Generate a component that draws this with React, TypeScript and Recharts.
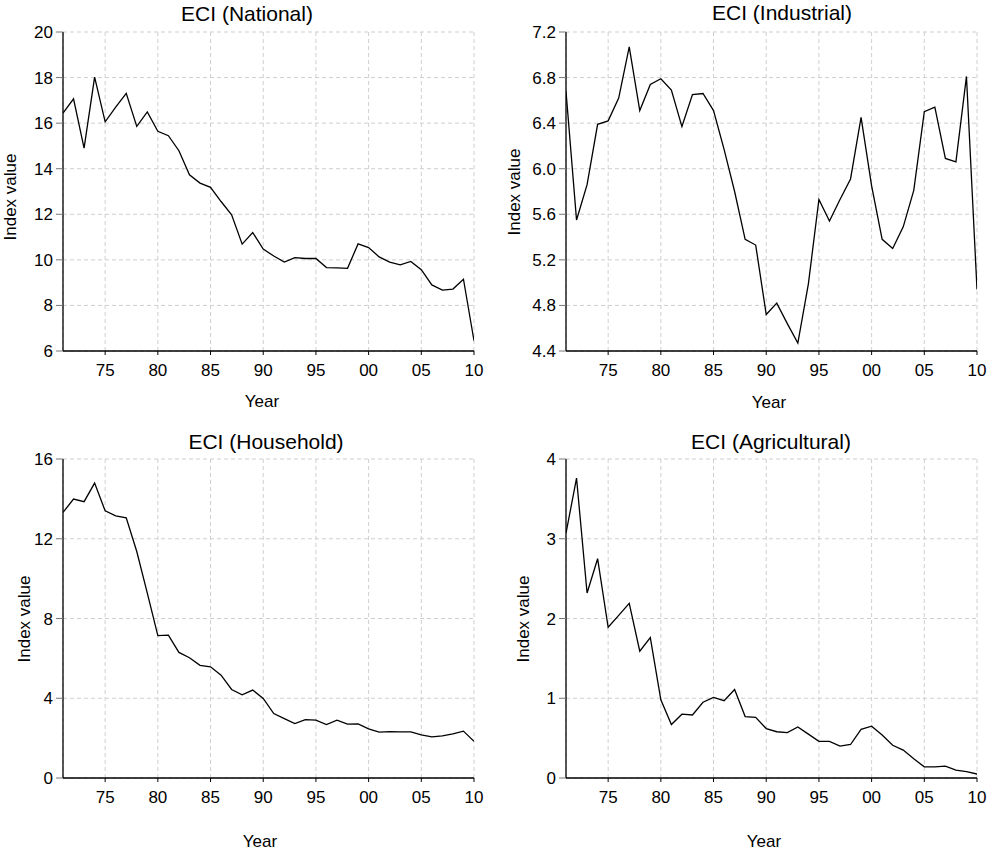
import React from 'react'
import { LineChart, Line, XAxis, YAxis, CartesianGrid } from 'recharts'

const years = [
  1971, 1972, 1973, 1974, 1975, 1976, 1977, 1978, 1979, 1980,
  1981, 1982, 1983, 1984, 1985, 1986, 1987, 1988, 1989, 1990,
  1991, 1992, 1993, 1994, 1995, 1996, 1997, 1998, 1999, 2000,
  2001, 2002, 2003, 2004, 2005, 2006, 2007, 2008, 2009, 2010,
]
const yearTicks = [1975, 1980, 1985, 1990, 1995, 2000, 2005, 2010]

const national = [
  16.44, 17.07, 14.9, 18.02, 16.06, 16.7, 17.31, 15.86, 16.49, 15.64,
  15.45, 14.79, 13.73, 13.37, 13.18, 12.56, 11.98, 10.69, 11.2, 10.47,
  10.17, 9.9, 10.1, 10.06, 10.06, 9.66, 9.65, 9.63, 10.7, 10.54,
  10.13, 9.9, 9.78, 9.93, 9.57, 8.9, 8.67, 8.72, 9.15, 6.45,
]
const industrial = [
  6.68, 5.55, 5.86, 6.39, 6.42, 6.62, 7.07, 6.51, 6.74, 6.79,
  6.69, 6.37, 6.65, 6.66, 6.51, 6.17, 5.8, 5.38, 5.33, 4.72,
  4.82, 4.64, 4.47, 4.99, 5.73, 5.54, 5.73, 5.91, 6.45, 5.85,
  5.38, 5.3, 5.49, 5.81, 6.5, 6.54, 6.09, 6.06, 6.81, 4.94,
]
const household = [
  13.32, 13.99, 13.86, 14.79, 13.4, 13.15, 13.05, 11.36, 9.27, 7.14,
  7.17, 6.3, 6.03, 5.65, 5.58, 5.16, 4.44, 4.17, 4.41, 3.99,
  3.23, 2.98, 2.73, 2.93, 2.9, 2.68, 2.9, 2.7, 2.71, 2.46,
  2.3, 2.33, 2.31, 2.31, 2.16, 2.06, 2.11, 2.21, 2.35, 1.84,
]
const agricultural = [
  3.07, 3.76, 2.32, 2.75, 1.89, 2.04, 2.19, 1.59, 1.76, 0.98,
  0.67, 0.8, 0.79, 0.95, 1.01, 0.97, 1.11, 0.77, 0.76, 0.62,
  0.58, 0.57, 0.64, 0.55, 0.46, 0.46, 0.4, 0.42, 0.61, 0.65,
  0.54, 0.41, 0.35, 0.24, 0.14, 0.14, 0.15, 0.1, 0.08, 0.05,
]

const font = '"Liberation Sans", Arial, sans-serif'

type PanelProps = {
  title: string
  values: number[]
  yTicks: number[]
  decimals: number
  left: number
  top: number
  width: number
  height: number
  yAxisWidth: number
  marginTop: number
  marginRight: number
  marginBottom: number
  titleX: number
  titleY: number
  yLabelX: number
  yLabelY: number
  xLabelX: number
  xLabelY: number
}

function Txt({ x, y, size, rotate, children }: { x: number; y: number; size: number; rotate?: boolean; children: React.ReactNode }) {
  return (
    <div style={{
      position: 'absolute', left: x, top: y, fontSize: size, fontFamily: font, color: '#000',
      whiteSpace: 'nowrap', lineHeight: 1,
      transform: `translate(-50%, -50%)${rotate ? ' rotate(-90deg)' : ''}`,
    }}>{children}</div>
  )
}

function Panel(p: PanelProps) {
  const data = years.map((y, i) => ({ year: y, v: p.values[i] }))
  const yDomain = [p.yTicks[0], p.yTicks[p.yTicks.length - 1]]
  const tickStyle = { fontSize: 17, fill: '#000', fontFamily: font }
  return (
    <>
      <div style={{ position: 'absolute', left: p.left, top: p.top }}>
        <LineChart width={p.width} height={p.height} data={data}
          margin={{ top: p.marginTop, right: p.marginRight, bottom: p.marginBottom, left: 0 }}>
          <CartesianGrid stroke="#cfcfcf" strokeDasharray="4 3" />
          <XAxis dataKey="year" type="number" domain={[1971, 2010]} ticks={yearTicks}
            allowDataOverflow interval={0} height={30}
            tickFormatter={(y: number) => String(y % 100).padStart(2, '0')}
            tick={tickStyle} tickSize={4} tickMargin={9}
            axisLine={{ stroke: '#000', strokeWidth: 1.3 }} tickLine={{ stroke: '#000' }} />
          <XAxis xAxisId="top" orientation="top" dataKey="year" type="number" domain={[1971, 2010]}
            height={0} tick={false} tickLine={false} axisLine={{ stroke: '#000', strokeWidth: 1.3 }} />
          <YAxis type="number" domain={yDomain} ticks={p.yTicks} interval={0} width={p.yAxisWidth}
            allowDataOverflow
            tickFormatter={(v: number) => v.toFixed(p.decimals)}
            tick={tickStyle} tickSize={7} tickMargin={3}
            axisLine={{ stroke: '#000', strokeWidth: 1.3 }} tickLine={{ stroke: '#777' }} />
          <YAxis yAxisId="right" orientation="right" type="number" domain={yDomain}
            width={0} tick={false} tickLine={false} axisLine={{ stroke: '#000', strokeWidth: 1.3 }} />
          <Line dataKey="v" type="linear" stroke="#000" strokeWidth={1.3} dot={false}
            isAnimationActive={false} />
        </LineChart>
      </div>
      <Txt x={p.titleX} y={p.titleY} size={21}>{p.title}</Txt>
      <Txt x={p.yLabelX} y={p.yLabelY} size={17} rotate>Index value</Txt>
      <Txt x={p.xLabelX} y={p.xLabelY} size={17}>Year</Txt>
    </>
  )
}

export default function App() {
  return (
    <div style={{ position: 'absolute', left: 0, top: 0, width: 987, height: 850, background: '#fff' }}>
      <Panel title="ECI (National)" values={national} yTicks={[6, 8, 10, 12, 14, 16, 18, 20]} decimals={0}
        left={0} top={0} width={490} height={420} yAxisWidth={63}
        marginTop={32} marginRight={16} marginBottom={39}
        titleX={247} titleY={13} yLabelX={10} yLabelY={197} xLabelX={262} xLabelY={401} />
      <Panel title="ECI (Industrial)" values={industrial} yTicks={[4.4, 4.8, 5.2, 5.6, 6.0, 6.4, 6.8, 7.2]} decimals={1}
        left={490} top={0} width={497} height={420} yAxisWidth={76}
        marginTop={32} marginRight={10} marginBottom={39}
        titleX={782} titleY={12} yLabelX={514} yLabelY={192} xLabelX={769} xLabelY={402} />
      <Panel title="ECI (Household)" values={household} yTicks={[0, 4, 8, 12, 16]} decimals={0}
        left={0} top={420} width={490} height={430} yAxisWidth={63}
        marginTop={39} marginRight={16} marginBottom={42}
        titleX={266} titleY={441} yLabelX={24} yLabelY={619} xLabelX={260} xLabelY={841} />
      <Panel title="ECI (Agricultural)" values={agricultural} yTicks={[0, 1, 2, 3, 4]} decimals={0}
        left={490} top={420} width={497} height={430} yAxisWidth={76}
        marginTop={39} marginRight={10} marginBottom={42}
        titleX={771} titleY={441} yLabelX={523} yLabelY={619} xLabelX={764} xLabelY={841} />
    </div>
  )
}
